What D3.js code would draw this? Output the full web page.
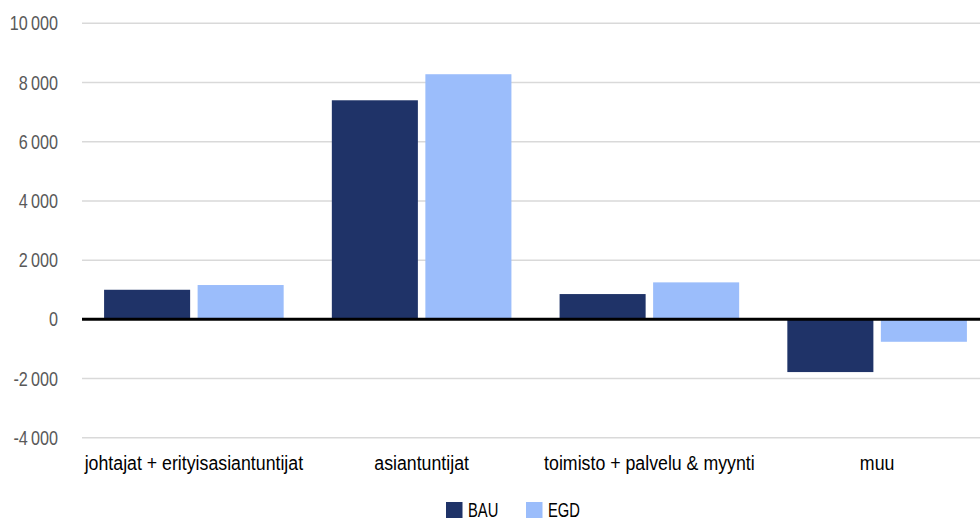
<!DOCTYPE html>
<html><head><meta charset="utf-8">
<script src="https://cdn.jsdelivr.net/npm/d3@7"></script>
<style>body{margin:0;background:#fff}svg{display:block}text{font-family:"Liberation Sans",Arial,sans-serif}</style>
</head><body><svg id="c" width="980" height="520"></svg>
<script>
const categories=["johtajat + erityisasiantuntijat","asiantuntijat","toimisto + palvelu & myynti","muu"];
const seriesNames=["BAU","EGD"];
const bau=[1000,7400,855,-1780];
const egd=[1160,8280,1250,-757];
const tickValues=[-4000,-2000,0,2000,4000,6000,8000,10000];
const colors=["#1f3368","#9bbdfb"];

const svg=d3.select("#c");
const mLeft=82,mRight=980,mTop=23.3,mBottom=437.8;
const y=d3.scaleLinear().domain([-4000,10000]).range([mBottom,mTop]);
const x0=d3.scaleBand().domain(categories).range([80,991]).paddingInner(0).paddingOuter(0);
const x1=d3.scaleBand().domain(seriesNames).range([0,x0.bandwidth()]).paddingInner(0.08).paddingOuter(0.2575);
const fmt=v=>d3.format(",")(v).replace(/,/g,"\u2009").replace("\u2212","-");

function sText(sel,x,yy,s,anchor,size,fill,txt){
  const gg=sel.append("g").attr("transform",`translate(${x},${yy}) scale(${s},1)`);
  gg.append("text").attr("text-anchor",anchor).attr("font-size",size).attr("fill",fill).text(txt);
  return gg;
}

svg.append("g").selectAll("line").data(tickValues.filter(v=>v!==0)).join("line")
  .attr("x1",mLeft).attr("x2",mRight).attr("y1",d=>y(d)).attr("y2",d=>y(d))
  .attr("stroke","#d9d9d9").attr("stroke-width",1.5);
const ty=svg.append("g");
tickValues.forEach(v=>sText(ty,58,y(v)+7,0.77,"end",21,"#595959",fmt(v)));

const data=categories.map((c,i)=>({c,vals:[bau[i],egd[i]]}));
const g=svg.append("g");
data.forEach(d=>{
  g.selectAll(null).data(d.vals.map((v,j)=>({v,s:seriesNames[j],j}))).join("rect")
    .attr("x",e=>x0(d.c)+x1(e.s)).attr("width",x1.bandwidth())
    .attr("y",e=>y(Math.max(0,e.v))).attr("height",e=>Math.abs(y(e.v)-y(0)))
    .attr("fill",e=>colors[e.j]);
});
svg.append("line").attr("x1",mLeft).attr("x2",mRight).attr("y1",y(0)).attr("y2",y(0))
  .attr("stroke","#000").attr("stroke-width",3);

const cx=svg.append("g");
categories.forEach(c=>sText(cx,x0(c)+x0.bandwidth()/2,469.5,0.845,"middle",21,"#000",c));

const leg=svg.append("g");
const lx=[446,526];
seriesNames.forEach((s,i)=>{
  leg.append("rect").attr("x",lx[i]).attr("y",502).attr("width",16.5).attr("height",16).attr("fill",colors[i]);
  sText(leg,lx[i]+22,516.5,0.72,"start",20.5,"#000",s);
});
</script></body></html>
